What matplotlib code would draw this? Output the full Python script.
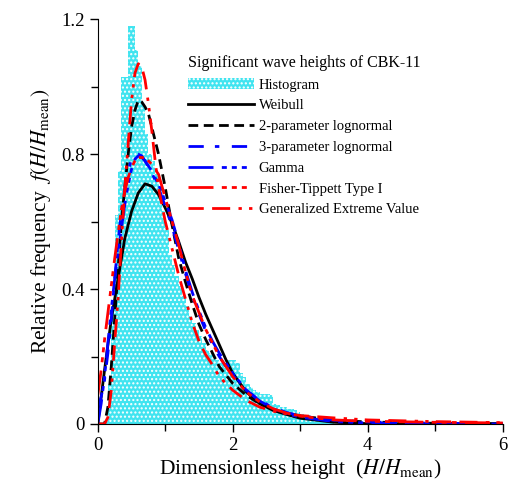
import matplotlib
matplotlib.use('Agg')
import matplotlib.pyplot as plt
import numpy as np

plt.rcParams['font.family'] = ['Liberation Serif', 'DejaVu Serif']
plt.rcParams['mathtext.fontset'] = 'stix'
plt.rcParams['hatch.linewidth'] = 1.0

# histogram (bin width 0.05, left edges from 0)
bin_w = 0.05
hist_vals = [0, 0, 0.01, 0.12, 0.35, 0.62, 0.75, 1.03, 1.03, 1.18,
             1.18, 1.11, 1.06, 0.95, 0.86, 0.80, 0.78, 0.74, 0.70, 0.63,
             0.58, 0.50, 0.47, 0.44, 0.41, 0.38, 0.35, 0.32, 0.30, 0.28,
             0.26, 0.24, 0.22, 0.21, 0.20, 0.19, 0.18, 0.18, 0.19, 0.19,
             0.19, 0.18, 0.15, 0.14, 0.12, 0.11, 0.10, 0.095, 0.09, 0.09,
             0.09, 0.085, 0.06, 0.055, 0.05, 0.05, 0.045, 0.045, 0.04, 0.035,
             0.03, 0.025, 0.02, 0.02, 0.02, 0.015, 0.015, 0.01, 0.01, 0.01]
hist_x = np.arange(len(hist_vals)) * bin_w

# fitted pdfs
weib_x = [0, 0.1, 0.2, 0.3, 0.4, 0.5, 0.6, 0.7, 0.8, 0.9, 1.0, 1.1, 1.2, 1.3, 1.4,
          1.5, 1.6, 1.7, 1.8, 1.9, 2.0, 2.2, 2.4, 2.6, 2.8, 3.0, 3.5, 4.0, 5.0, 6.0]
weib_y = [0, 0.16, 0.31, 0.43, 0.55, 0.63, 0.685, 0.712, 0.705, 0.68, 0.64, 0.595, 0.54, 0.48, 0.43,
          0.375, 0.325, 0.28, 0.235, 0.19, 0.15, 0.095, 0.06, 0.04, 0.028, 0.017, 0.005, 0.001, 0, 0]

logn2_x = [0, 0.1, 0.15, 0.2, 0.25, 0.3, 0.35, 0.4, 0.45, 0.5, 0.55, 0.6, 0.65, 0.7, 0.75, 0.8,
           0.9, 1.0, 1.1, 1.2, 1.3, 1.4, 1.5, 1.6, 1.8, 2.0, 2.2, 2.4, 2.6, 2.8, 3.0, 3.5, 4.0, 5.0, 6.0]
logn2_y = [0, 0.0, 0.05, 0.17, 0.31, 0.46, 0.6, 0.7, 0.8, 0.88, 0.93, 0.96, 0.955, 0.94, 0.92, 0.88,
           0.80, 0.70, 0.59, 0.49, 0.42, 0.355, 0.295, 0.25, 0.17, 0.12, 0.085, 0.06, 0.043, 0.032, 0.024, 0.011, 0.006, 0.002, 0.001]

logn3_x = [0, 0.05, 0.1, 0.15, 0.2, 0.25, 0.3, 0.35, 0.4, 0.45, 0.5, 0.55, 0.6, 0.65, 0.7, 0.8,
           0.9, 1.0, 1.1, 1.2, 1.3, 1.4, 1.5, 1.6, 1.7, 1.8, 1.9, 2.0, 2.2, 2.4, 2.6, 2.8, 3.0, 3.5, 4.0, 5.0, 6.0]
logn3_y = [0.05, 0.08, 0.13, 0.21, 0.31, 0.43, 0.54, 0.63, 0.70, 0.75, 0.785, 0.80, 0.80, 0.795, 0.78, 0.745,
           0.70, 0.645, 0.585, 0.515, 0.445, 0.38, 0.325, 0.275, 0.235, 0.20, 0.17, 0.145, 0.10, 0.07, 0.048, 0.034, 0.024, 0.011, 0.006, 0.002, 0.001]

gamma_x = [0, 0.05, 0.1, 0.15, 0.2, 0.25, 0.3, 0.35, 0.4, 0.45, 0.5, 0.55, 0.6, 0.65, 0.7, 0.8,
           0.9, 1.0, 1.1, 1.2, 1.3, 1.4, 1.5, 1.6, 1.7, 1.8, 1.9, 2.0, 2.2, 2.4, 2.6, 2.8, 3.0, 3.5, 4.0, 5.0, 6.0]
gamma_y = [0, 0.06, 0.14, 0.24, 0.34, 0.43, 0.51, 0.58, 0.65, 0.71, 0.755, 0.785, 0.795, 0.79, 0.78, 0.75,
           0.71, 0.66, 0.605, 0.535, 0.455, 0.39, 0.335, 0.285, 0.245, 0.21, 0.18, 0.15, 0.10, 0.068, 0.045, 0.03, 0.02, 0.007, 0.003, 0.0005, 0]

ft_x = [0, 0.05, 0.1, 0.15, 0.2, 0.25, 0.3, 0.35, 0.4, 0.45, 0.5, 0.55, 0.6, 0.7, 0.8, 0.9,
        1.0, 1.1, 1.2, 1.3, 1.4, 1.5, 1.6, 1.7, 1.8, 1.9, 2.0, 2.2, 2.4, 2.6, 2.8, 3.0, 3.5, 4.0, 5.0, 6.0]
ft_y = [0.085, 0.16, 0.25, 0.33, 0.41, 0.49, 0.565, 0.635, 0.69, 0.73, 0.76, 0.78, 0.79, 0.79, 0.77, 0.74,
        0.67, 0.60, 0.53, 0.45, 0.38, 0.33, 0.28, 0.24, 0.20, 0.17, 0.14, 0.095, 0.065, 0.045, 0.032, 0.023, 0.012, 0.008, 0.005, 0.003]

gev_x = [0, 0.1, 0.15, 0.2, 0.25, 0.3, 0.35, 0.4, 0.45, 0.5, 0.55, 0.6, 0.65, 0.7, 0.75, 0.8, 0.85,
         0.9, 1.0, 1.1, 1.2, 1.3, 1.4, 1.5, 1.6, 1.7, 1.8, 2.0, 2.2, 2.4, 2.6, 2.8, 3.0, 3.5, 4.0, 5.0, 6.0]
gev_y = [0, 0.0, 0.02, 0.1, 0.24, 0.37, 0.54, 0.70, 0.83, 0.96, 1.04, 1.068, 1.06, 1.02, 0.95, 0.87, 0.78,
         0.70, 0.60, 0.52, 0.44, 0.37, 0.30, 0.245, 0.205, 0.175, 0.14, 0.10, 0.07, 0.05, 0.038, 0.03, 0.025, 0.018, 0.012, 0.007, 0.004]

fig = plt.figure(figsize=(5.12, 4.93), dpi=100)
ax = fig.add_axes([0.191, 0.140, 0.791, 0.821])

bars = ax.bar(hist_x, hist_vals, width=bin_w, align='edge', facecolor='#40e4f0',
              edgecolor='white', hatch='....', linewidth=0, label='Histogram')

lw = 2.0
l1, = ax.plot(weib_x, weib_y, color='black', lw=lw, label='Weibull')
l2, = ax.plot(logn2_x, logn2_y, color='black', lw=lw, ls=(0, (3.5, 2)), label='2-parameter lognormal')
l3, = ax.plot(logn3_x, logn3_y, color='blue', lw=lw, ls=(0, (5.5, 4, 1.6, 4.5)), label='3-parameter lognormal')
l4, = ax.plot(gamma_x, gamma_y, color='blue', lw=lw, ls=(0, (9, 3, 1.8, 1.8, 1.8, 1.8, 1.8, 3)), label='Gamma')
l5, = ax.plot(ft_x, ft_y, color='red', lw=lw, ls=(0, (9, 3, 1.8, 1.8, 1.8, 1.8, 1.8, 3)), label='Fisher-Tippett Type I')
l6, = ax.plot(gev_x, gev_y, color='red', lw=lw, ls=(0, (5.5, 3, 6.5, 3, 1.2, 2.6, 1.2, 2.6)), label='Generalized Extreme Value')

ax.set_xlim(0, 6)
ax.set_ylim(0, 1.2)
ax.set_xticks([0, 2, 4, 6])
ax.set_xticks([1, 3, 5], minor=True)
ax.set_yticks([0, 0.4, 0.8, 1.2])
ax.set_yticklabels(['0', '0.4', '0.8', '1.2'])
ax.set_yticks([0.2, 0.6, 1.0], minor=True)
ax.tick_params(which='both', direction='out', labelsize=13.5, width=1)
ax.tick_params(which='major', length=6)
ax.tick_params(which='minor', length=5)
ax.spines['top'].set_visible(False)
ax.spines['right'].set_visible(False)

ax.set_xlabel(r'Dimensionless height  ($H/H_{\rm mean}$)', fontsize=15.5, labelpad=2)
ax.set_ylabel(r'Relative frequency  $f(H/H_{\rm mean})$', fontsize=15.5, labelpad=6)

leg = ax.legend([bars, l1, l2, l3, l4, l5, l6],
                ['Histogram', 'Weibull', '2-parameter lognormal', '3-parameter lognormal',
                 'Gamma', 'Fisher-Tippett Type I', 'Generalized Extreme Value'],
                loc='upper left', bbox_to_anchor=(0.205, 0.93), frameon=False,
                title='Significant wave heights of CBK-11', alignment='left',
                fontsize=10.5, title_fontsize=11.5, handlelength=4.5,
                handletextpad=0.35, labelspacing=0.52, borderpad=0)

plt.savefig('out.png', dpi=100)
